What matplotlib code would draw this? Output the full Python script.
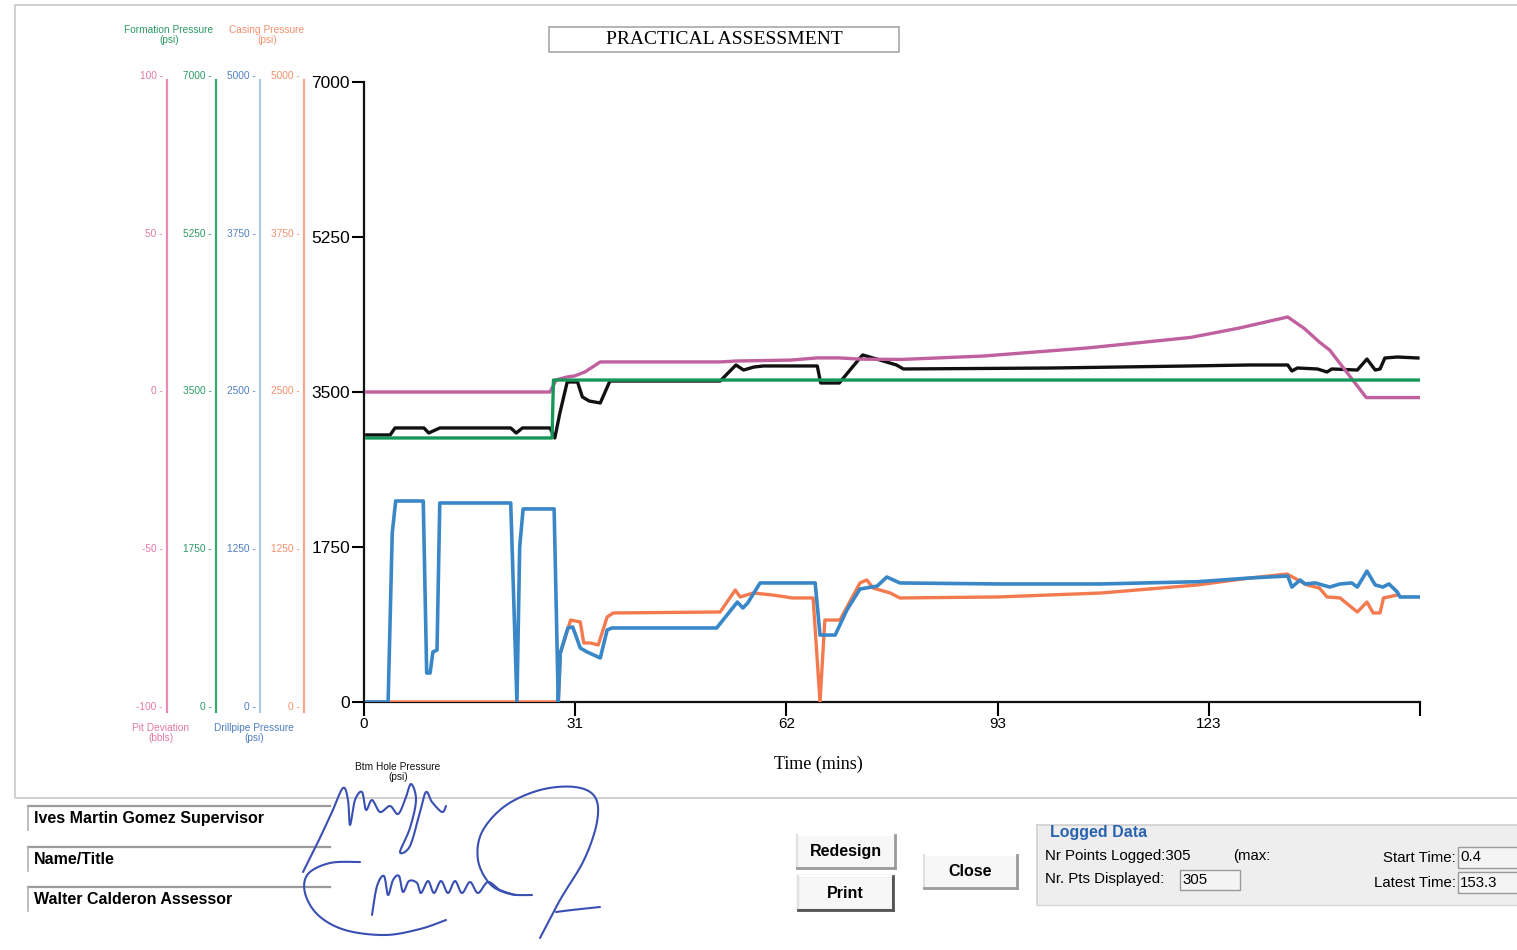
import matplotlib
matplotlib.use("Agg")
import matplotlib.pyplot as plt
from matplotlib.patches import Rectangle
from matplotlib.lines import Line2D
import numpy as np

# ---------------- logged data ----------------
END_TIME = 153.3
x_tick_labels = ["0", "31", "62", "93", "123", ""]

# Bottom hole pressure (psi)
bhp_t = [0.4, 3.8, 4.5, 8.7, 9.4, 11.0, 21.3, 22.1, 23.0, 27.0, 27.7, 28.4, 29.5, 31.0,
         31.7, 32.7, 34.3, 35.0, 35.7, 51.7, 54.0, 55.1, 56.6, 58.0, 65.8, 66.3, 69.0,
         72.0, 72.4, 74.9, 77.3, 78.3, 100.0, 120.0, 128.6, 134.1, 134.7, 135.5, 138.4,
         139.8, 140.5, 144.2, 145.6, 146.8, 147.5, 148.2, 150.0, 153.0]
bhp_psi = [3015, 3015, 3094, 3094, 3037, 3094, 3094, 3037, 3094, 3094, 2981, 3250, 3613, 3613,
           3444, 3398, 3376, 3500, 3624, 3624, 3805, 3748, 3782, 3794, 3794, 3602, 3602,
           3884, 3918, 3861, 3805, 3760, 3771, 3794, 3805, 3805, 3737, 3771, 3760,
           3726, 3760, 3748, 3872, 3748, 3760, 3884, 3895, 3884]

# Formation pressure (psi)
form_t = [0.4, 27.3, 27.5, 153.3]
form_psi = [2981, 2981, 3635, 3635]

# Pit deviation (bbls)
pit_t = [0.4, 27.0, 27.9, 29.4, 30.6, 32.1, 34.3, 51.7, 54.0, 62.0, 65.8, 69.0, 72.0, 78.0,
         89.9, 105.0, 120.0, 127.0, 134.1, 136.5, 138.7, 140.2, 145.5, 153.3]
pit_bbl = [0.0, 0.0, 3.9, 4.8, 5.2, 6.5, 9.7, 9.7, 10.0, 10.3, 11.0, 11.0, 10.6, 10.5,
           11.6, 14.2, 17.6, 20.6, 24.2, 20.5, 16.1, 13.5, -1.8, -1.8]

# Drillpipe pressure (psi)
dp_t = [0.4, 3.5, 4.1, 4.6, 8.6, 9.1, 9.6, 10.0, 10.6, 11.0, 21.3, 22.2, 22.6, 23.1, 27.6,
        28.2, 28.5, 29.6, 30.3, 31.4, 32.4, 34.3, 35.3, 36.0, 51.2, 54.2, 55.0, 55.7, 57.5,
        65.5, 66.2, 68.4, 70.1, 72.0, 74.5, 75.9, 77.8, 92.0, 107.0, 121.0, 128.6, 134.1,
        134.7, 135.9, 136.6, 138.1, 140.2, 141.7, 143.4, 144.2, 145.6, 146.8, 147.9, 148.8,
        150.0, 150.4, 153.3]
dp_psi = [0, 0, 1363, 1621, 1621, 234, 234, 403, 419, 1605, 1605, 0, 1250, 1557, 1557,
          0, 395, 597, 605, 435, 403, 355, 581, 597, 597, 806, 758, 798, 960,
          960, 540, 540, 742, 911, 935, 1008, 960, 952, 952, 970, 1000, 1016,
          927, 984, 952, 960, 927, 952, 960, 927, 1056, 944, 927, 952,
          887, 847, 847]

# Casing pressure (psi)
csg_t = [0.4, 28.2, 28.5, 30.0, 31.4, 31.9, 32.9, 34.0, 35.3, 36.2, 51.7, 53.9, 54.6, 56.5,
         59.3, 62.2, 65.2, 66.2, 66.9, 69.1, 72.0, 73.0, 73.9, 76.4, 77.8, 92.0, 107.0,
         121.0, 128.6, 134.0, 136.9, 138.7, 139.8, 141.7, 144.2, 145.6, 146.5, 147.5, 148.0,
         150.0]
csg_psi = [0, 0, 395, 661, 645, 476, 476, 460, 686, 718, 726, 903, 847, 879,
           863, 839, 839, 0, 661, 661, 960, 984, 919, 879, 839, 847, 879,
           944, 1000, 1032, 944, 919, 847, 839, 726, 806, 718, 718, 839,
           863]

# tick values of each scale
pit_ticks = [-100, -50, 0, 50, 100]
form_ticks = [0, 1750, 3500, 5250, 7000]
dp_ticks = [0, 1250, 2500, 3750, 5000]
csg_ticks = [0, 1250, 2500, 3750, 5000]
bhp_ticks = [0, 1750, 3500, 5250, 7000]

C_PIT = "#c0609e"
C_FORM = "#17965a"
C_DP = "#3a87c8"
C_CSG = "#f37a4e"
C_BHP = "#111111"

W, H = 1517, 950
fig = plt.figure(figsize=(W / 100, H / 100), dpi=100)
fig.patch.set_facecolor("white")
plt.rcParams["font.family"] = ["Liberation Sans", "DejaVu Sans"]


def fx(x):
    return x / W


def fy(y):
    return 1 - y / H


def fline(xs, ys, **kw):
    fig.add_artist(Line2D([fx(x) for x in xs], [fy(y) for y in ys],
                          transform=fig.transFigure, **kw))


def frect(x0, y0, x1, y1, **kw):
    fig.add_artist(Rectangle((fx(x0), fy(y1)), fx(x1) - fx(x0), fy(y0) - fy(y1),
                             transform=fig.transFigure, **kw))


def ftext(x, y, s, **kw):
    fig.text(fx(x), fy(y), s, **kw)


# outer panel frame
frect(15, 5, 1530, 798, fill=False, edgecolor="#c8c8c8", lw=1.2)

# ---------------- main plot ----------------
ax = fig.add_axes([fx(364), fy(702), fx(1420) - fx(364), fy(82) - fy(702)])
ax.set_facecolor("none")
ax.set_xlim(0, END_TIME)
ax.set_ylim(0, 7000)
for s in ("top", "right"):
    ax.spines[s].set_visible(False)
for s in ("left", "bottom"):
    ax.spines[s].set_linewidth(1.6)
    ax.spines[s].set_color("#111111")
ax.set_xticks([END_TIME * k / 5 for k in range(6)])
ax.set_xticklabels(x_tick_labels)
ax.set_yticks(bhp_ticks)
ax.set_yticklabels([str(v) for v in bhp_ticks])
ax.tick_params(axis="x", direction="out", length=10, width=1.5, labelsize=11, pad=1)
ax.tick_params(axis="y", direction="out", length=9, width=1.5, labelsize=12.5, pad=1)
ax.set_xlabel("Time (mins)", family="Liberation Serif", fontsize=13)
ax.xaxis.set_label_coords((818 - 364) / (1420 - 364), -(764 - 702) / (702 - 82), transform=ax.transAxes)
ax.xaxis.label.set_va("center")

ax.plot(bhp_t, bhp_psi, color=C_BHP, lw=2.4, solid_joinstyle="round", zorder=3)


def overlay(lo, hi):
    tw = ax.twinx()
    tw.set_ylim(lo, hi)
    tw.set_axis_off()
    return tw


overlay(-100, 100).plot(pit_t, pit_bbl, color=C_PIT, lw=2.4, solid_joinstyle="round")
overlay(0, 7000).plot(form_t, form_psi, color=C_FORM, lw=2.4)
overlay(0, 5000).plot(csg_t, csg_psi, color=C_CSG, lw=2.4, solid_joinstyle="round")
overlay(0, 5000).plot(dp_t, dp_psi, color=C_DP, lw=2.6, solid_joinstyle="round")

# ---------------- left-hand scales ----------------
scales = [
    (167, pit_ticks, (-100, 100), "#e88db2", "#e37aa5"),
    (216, form_ticks, (0, 7000), "#3aa36e", "#2c9a64"),
    (260, dp_ticks, (0, 5000), "#a9cbe8", "#4f7fc0"),
    (304, csg_ticks, (0, 5000), "#f6a689", "#f3906c"),
]
for xpos, ticks, lim, lcol, tcol in scales:
    sa = fig.add_axes([fx(xpos), fy(706), 1e-4, fy(75) - fy(706)])
    sa.set_facecolor("none")
    sa.set_ylim(*lim)
    for s in ("top", "right", "bottom"):
        sa.spines[s].set_visible(False)
    sa.spines["left"].set_color(lcol)
    sa.spines["left"].set_linewidth(1.6)
    span = lim[1] - lim[0]
    sa.spines["left"].set_bounds(lim[0] - span * 0.01, lim[1] - span * 0.008)
    sa.set_xticks([])
    sa.set_yticks(ticks)
    sa.set_yticklabels([f"{v} -" for v in ticks])
    sa.tick_params(axis="y", length=0, pad=3, labelsize=7.3, labelcolor=tcol)

for x, y, s, c in [(169, 35, "Formation Pressure\n(psi)", "#2c9a64"),
                   (267, 35, "Casing Pressure\n(psi)", "#f3906c"),
                   (161, 733, "Pit Deviation\n(bbls)", "#e37aa5"),
                   (254, 733, "Drillpipe Pressure\n(psi)", "#4f7fc0"),
                   (398, 772, "Btm Hole Pressure\n(psi)", "#111111")]:
    ftext(x, y, s, color=c, fontsize=7.3, ha="center", va="center", linespacing=1.0)

# title box
frect(549, 27, 899, 52, fill=False, edgecolor="#a8a8a8", lw=1.2)
ftext(724, 40, "PRACTICAL ASSESSMENT", family="Liberation Serif", fontsize=14,
      ha="center", va="center")

# ---------------- name fields ----------------
fields = [(818, "Ives Martin Gomez Supervisor"), (859, "Name/Title"),
          (899, "Walter Calderon Assessor")]
for yc, label in fields:
    fline([28, 330], [yc - 12, yc - 12], color="#9a9a9a", lw=1.6)
    fline([28, 28], [yc - 12, yc + 12], color="#b0b0b0", lw=1.2)
    ftext(34, yc, label, fontsize=11.5, fontweight="bold", ha="left", va="center")


# signatures
def smooth(pts, n=12):
    p = np.array(pts, dtype=float)
    p = np.vstack([p[0], p, p[-1]])
    out = []
    for i in range(1, len(p) - 2):
        p0, p1, p2, p3 = p[i - 1], p[i], p[i + 1], p[i + 2]
        for s in np.linspace(0, 1, n, endpoint=False):
            out.append(0.5 * ((2 * p1) + (-p0 + p2) * s + (2 * p0 - 5 * p1 + 4 * p2 - p3) * s ** 2
                              + (-p0 + 3 * p1 - 3 * p2 + p3) * s ** 3))
    out.append(p[-2])
    return np.array(out)


ink = "#3a4fb2"
strokes = [
    [(303, 872), (318, 842), (332, 812), (343, 788), (348, 800), (350, 825), (355, 800),
     (362, 792), (366, 810), (372, 800), (380, 812), (390, 806), (398, 814), (405, 800),
     (411, 784), (416, 800), (410, 828), (400, 852), (410, 846), (420, 812), (426, 792),
     (432, 802), (442, 812), (446, 806)],
    [(360, 862), (330, 863), (308, 874), (305, 893), (318, 915), (345, 930), (385, 935),
     (420, 929), (446, 920)],
    [(372, 915), (377, 886), (384, 876), (388, 895), (393, 880), (399, 876), (403, 892),
     (409, 881), (417, 883), (421, 893), (428, 881), (434, 893), (441, 881), (448, 893),
     (455, 881), (462, 893), (470, 882), (478, 893), (488, 882), (500, 890), (515, 895)],
    [(540, 938), (560, 900), (584, 860), (597, 822), (595, 797), (575, 787), (540, 790),
     (505, 806), (482, 832), (478, 860), (490, 884), (510, 894), (532, 895)],
    [(556, 912), (572, 910), (600, 907)],
]
for st in strokes:
    c = smooth(st)
    fline(c[:, 0], c[:, 1], color=ink, lw=1.5, solid_capstyle="round")


# ---------------- buttons ----------------
def button(x0, y0, x1, y1, label, strong=False):
    frect(x0, y0, x1, y1, facecolor="#f7f7f7", edgecolor="none")
    fline([x0, x1], [y0, y0], color="#ffffff", lw=1.5)
    fline([x0, x0], [y0, y1], color="#e0e0e0", lw=1.5)
    dark = "#555555" if strong else "#9a9a9a"
    fline([x0, x1], [y1, y1], color=dark, lw=2.0)
    fline([x1, x1], [y0, y1], color=dark, lw=2.0)
    if strong:
        frect(x0, y0, x1, y1, fill=False, edgecolor="#777777", lw=1.5)
    ftext((x0 + x1) / 2, (y0 + y1) / 2, label, fontsize=11.5, fontweight="bold",
          ha="center", va="center")


button(797, 835, 895, 868, "Redesign")
button(798, 876, 893, 910, "Print", strong=True)
button(924, 855, 1017, 888, "Close")

# ---------------- logged data panel ----------------
frect(1037, 825, 1530, 905, facecolor="#eeeeee", edgecolor="none")
fline([1037, 1517], [825, 825], color="#cfcfcf", lw=1.2)
fline([1037, 1037], [825, 905], color="#cfcfcf", lw=1.2)
fline([1037, 1517], [905, 905], color="#d8d8d8", lw=1.0)
ftext(1050, 833, "Logged Data", color="#2a63b0", fontsize=11.5, fontweight="bold",
      ha="left", va="center")
ftext(1045, 856, "Nr Points Logged:305", fontsize=10.8, ha="left", va="center")
ftext(1233, 856, "(max:", fontsize=10.8, ha="left", va="center")
ftext(1045, 879, "Nr. Pts Displayed:", fontsize=10.8, ha="left", va="center")
frect(1180, 870, 1240, 890, facecolor="#f4f4f4", edgecolor="#9a9a9a", lw=1.0)
ftext(1182, 880, "305", fontsize=10.8, ha="left", va="center")
ftext(1456, 858, "Start Time:", fontsize=10.8, ha="right", va="center")
frect(1458, 847, 1530, 868, facecolor="#f4f4f4", edgecolor="#9a9a9a", lw=1.0)
ftext(1460, 857, "0.4", fontsize=10.8, ha="left", va="center")
ftext(1456, 883, "Latest Time:", fontsize=10.8, ha="right", va="center")
frect(1458, 872, 1530, 893, facecolor="#f4f4f4", edgecolor="#9a9a9a", lw=1.0)
ftext(1460, 883, "153.3", fontsize=10.8, ha="left", va="center")

fig.savefig("out.png", dpi=100, facecolor="white")
